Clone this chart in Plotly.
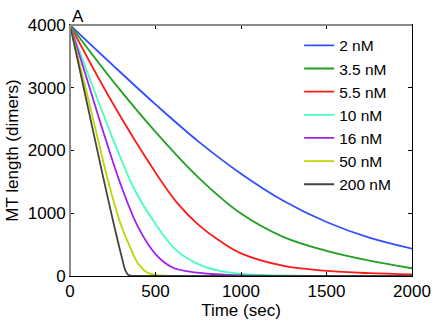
import plotly.graph_objects as go

# depolymerisation curves
labels = ['2 nM', '3.5 nM', '5.5 nM', '10 nM', '16 nM', '50 nM', '200 nM']
colors = ['#3050ff', '#22a022', '#ff1a1a', '#44ffbb', '#a020f0', '#bfd400', '#444444']

t_2 = [0, 250, 500, 750, 1000, 1250, 1500, 1750, 2000]
L_2 = [4000, 3360, 2735, 2145, 1630, 1195, 860, 610, 435]

t_35 = [0, 250, 500, 750, 1000, 1250, 1500, 1750, 2000]
L_35 = [4000, 3110, 2298, 1573, 995, 620, 400, 245, 123]

t_55 = [0, 250, 500, 625, 750, 875, 1000, 1250, 1500, 1750, 2000]
L_55 = [4000, 2753, 1648, 1170, 820, 560, 360, 160, 82, 45, 25]

t_10 = [0, 125, 250, 375, 500, 625, 750, 875, 1000, 1250, 1500, 2000]
L_10 = [4000, 3075, 2190, 1390, 830, 400, 190, 80, 35, 8, 2, 0]

t_16 = [0, 100, 200, 300, 400, 500, 600, 700, 850, 1000, 1300, 2000]
L_16 = [4000, 3130, 2250, 1430, 770, 350, 135, 70, 28, 10, 2, 0]

t_50 = [0, 100, 200, 250, 300, 350, 400, 450, 500, 550, 650, 2000]
L_50 = [4000, 2900, 1760, 1240, 800, 470, 190, 55, 18, 5, 0, 0]

t_200 = [0, 100, 200, 250, 300, 325, 340, 360, 400, 2000]
L_200 = [4000, 2750, 1500, 900, 330, 80, 20, 3, 0, 0]

times = [t_2, t_35, t_55, t_10, t_16, t_50, t_200]
lengths = [L_2, L_35, L_55, L_10, L_16, L_50, L_200]

font = 'Liberation Sans, Arial, sans-serif'

fig = go.Figure()
for name, col, t, L in zip(labels, colors, times, lengths):
    fig.add_trace(go.Scatter(
        x=t, y=L, name=name, mode='lines',
        line=dict(color=col, width=1.8, shape='spline', smoothing=1.0),
    ))

fig.update_xaxes(
    range=[0, 2000], dtick=500, ticks='inside', ticklen=4, tickcolor='black',
    showline=True, linecolor='black', linewidth=1, mirror='ticks',
    showgrid=False, zeroline=False, automargin=False,
    title=dict(text='Time (sec)', standoff=0, font=dict(size=17)),
    tickfont=dict(size=17),
)
fig.update_yaxes(
    range=[0, 4000], dtick=1000, ticks='inside', ticklen=4, tickcolor='black',
    showline=True, linecolor='black', linewidth=1, mirror='ticks',
    showgrid=False, zeroline=False, automargin=False,
    title=dict(text='MT length (dimers)', standoff=4, font=dict(size=17)),
    tickfont=dict(size=17),
)

# the top and left edges of the frame look grey in the original
fig.add_shape(type='line', xref='paper', yref='paper', x0=0, x1=1, y0=1, y1=1,
              line=dict(color='#8a8a8a', width=2))
fig.add_shape(type='line', xref='paper', yref='paper', x0=0, x1=0, y0=0, y1=1,
              line=dict(color='#8a8a8a', width=2))

fig.add_annotation(text='A', xref='paper', yref='paper', x=0, y=1,
                   xanchor='left', yanchor='bottom', showarrow=False,
                   font=dict(size=17, color='black'), yshift=-3)

fig.update_layout(
    width=436, height=320,
    margin=dict(l=70, r=24, t=25, b=44),
    paper_bgcolor='white', plot_bgcolor='white',
    font=dict(family=font, size=17, color='black'),
    showlegend=True,
    legend=dict(x=0.67, y=0.985, xanchor='left', yanchor='top',
                bgcolor='rgba(255,255,255,0)', borderwidth=0,
                font=dict(size=15.5), tracegroupgap=0),
)

# page body has an 8px default margin; drop it so the figure sits at 0,0
fig.write_html('out.html', config={'displayModeBar': False},
               post_script="document.body.style.margin='0px';")
